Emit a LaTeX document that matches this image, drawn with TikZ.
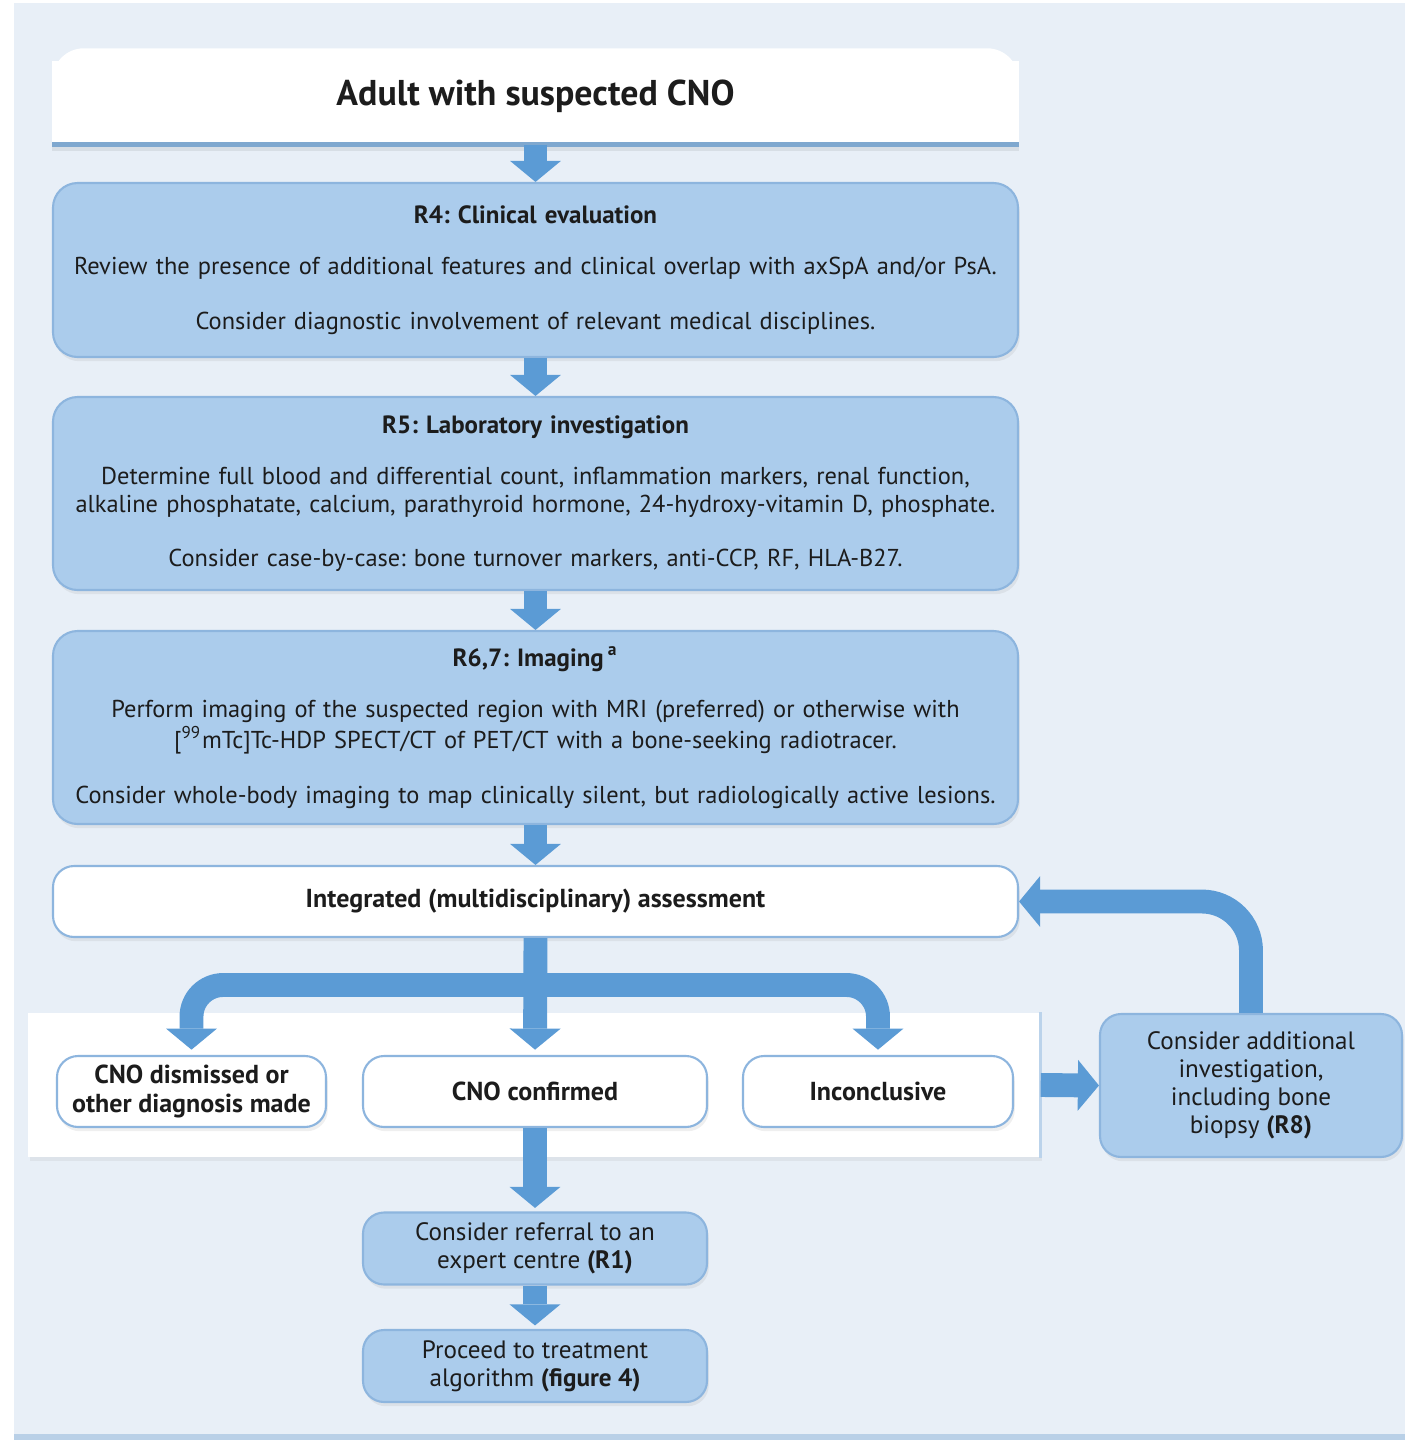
\documentclass[tikz,border=0pt]{standalone}
\usepackage{fontspec}
\setmainfont{PT Sans}
\usepackage{xcolor}
\usepackage{tikz}
\usetikzlibrary{arrows.meta,positioning,calc,shadows,backgrounds}

\definecolor{pagebg}{HTML}{E8EFF7}
\definecolor{pageline}{HTML}{B9D0E7}
\definecolor{boxblue}{HTML}{ABCCEC}
\definecolor{boxline}{HTML}{8DB5DE}
\definecolor{flowblue}{HTML}{5B9BD5}
\definecolor{titleline}{HTML}{7FA8CF}
\definecolor{inktext}{HTML}{1C1C1C}

\frenchspacing

\begin{document}
\begin{tikzpicture}[
    text=inktext,
    stepbox/.style={rectangle, rounded corners=7pt, draw=boxline, line width=0.6pt, fill=boxblue,
        minimum width=9.65cm, text width=9.4cm, align=center, inner sep=0pt,
        font=\fontsize{6.95}{8}\selectfont,
        drop shadow={opacity=0.12, shadow xshift=0.5pt, shadow yshift=-1.2pt}},
    whitebox/.style={rectangle, rounded corners=6pt, draw=boxline, line width=0.6pt, fill=white,
        minimum height=0.71cm, align=center, inner sep=0pt, font=\bfseries\fontsize{7.4}{8}\selectfont,
        drop shadow={opacity=0.12, shadow xshift=0.5pt, shadow yshift=-1.2pt}},
    smallbox/.style={rectangle, rounded corners=6pt, draw=boxline, line width=0.6pt, fill=boxblue,
        minimum width=3.44cm, minimum height=0.72cm, align=center, inner sep=0pt,
        font=\fontsize{7.15}{8}\selectfont,
        drop shadow={opacity=0.12, shadow xshift=0.5pt, shadow yshift=-1.2pt}},
    flow/.style={draw=flowblue, line width=6.8pt, -{Triangle[width=14.5pt, length=6pt, line width=0pt]}}
]

\useasboundingbox (0,0) rectangle (14.05,-14.40);

% title box, rounded on top only
\node[font=\bfseries\fontsize{10.2}{12}\selectfont, minimum width=9.65cm, minimum height=0.95cm] (title) at (5.355,-0.965) {Adult with suspected CNO};
\begin{scope}[on background layer]
% page background
\fill[pagebg] (0.14,-0.03) rectangle (14.05,-14.34);
\fill[pageline] (0.14,-14.34) rectangle (14.05,-14.40);
\fill[black, opacity=0.07] ([yshift=-1.8pt]title.south west) rectangle (title.south east);
\fill[white, rounded corners=9pt] (title.south west) rectangle (title.north east);
\fill[white] (title.south west) rectangle ([yshift=10pt]title.east);
\end{scope}
\draw[titleline, line width=1.4pt] (title.south west) -- (title.south east);

% recommendation steps
\node[stepbox, minimum height=1.74cm] (r4) at (5.355,-2.70) {%
{\bfseries\fontsize{7.1}{8}\selectfont R4: Clinical evaluation}\\[6.5pt]
Review the presence of additional features and clinical overlap with axSpA and/or PsA.\\[7.5pt]
Consider diagnostic involvement of relevant medical disciplines.};

\node[stepbox, minimum height=1.93cm] (r5) at (5.355,-4.935) {%
{\bfseries\fontsize{7.1}{8}\selectfont R5: Laboratory investigation}\\[6.5pt]
Determine full blood and differential count, inflammation markers, renal function,\\
alkaline phosphatate, calcium, parathyroid hormone, 24-hydroxy-vitamin D, phosphate.\\[7.5pt]
Consider case-by-case: bone turnover markers, anti-CCP, RF, HLA-B27.};

\node[stepbox, minimum height=1.93cm] (r6) at (5.355,-7.275) {%
{\bfseries\fontsize{7.1}{8}\selectfont R6,7: Imaging\,\textsuperscript{a}}\\[6.5pt]
Perform imaging of the suspected region with MRI (preferred) or otherwise with\\
{[}\textsuperscript{99}mTc]Tc-HDP SPECT/CT of PET/CT with a bone-seeking radiotracer.\\[7.5pt]
Consider whole-body imaging to map clinically silent, but radiologically active lesions.};

\node[whitebox, minimum width=9.65cm] (integ) at (5.355,-9.015) {Integrated (multidisciplinary) assessment};

% white panel with the three outcomes
\node[fill=white, minimum width=10.12cm, minimum height=1.44cm, inner sep=0pt,
      drop shadow={opacity=0.10, shadow xshift=0.6pt, shadow yshift=-1.2pt}] (panel) at (5.34,-10.85) {};
\draw[boxline!60, line width=1pt] (panel.north east) -- (panel.south east);

\node[whitebox, minimum width=2.69cm] (dism) at (1.915,-10.915) {CNO dismissed or\\other diagnosis made};
\node[whitebox, minimum width=3.44cm] (conf) at (5.35,-10.915) {CNO confirmed};
\node[whitebox, minimum width=2.70cm] (incon) at (8.78,-10.915) {Inconclusive};

\node[smallbox, minimum width=3.02cm, minimum height=1.43cm] (addl) at (12.51,-10.855) {Consider additional\\investigation,\\including bone\\biopsy \textbf{(R8)}};

\node[smallbox] (refer) at (5.35,-12.485) {Consider referral to an\\expert centre \textbf{(R1)}};
\node[smallbox] (proceed) at (5.35,-13.66) {Proceed to treatment\\algorithm \textbf{(figure 4)}};

% arrows
\draw[flow] (title) -- (r4);
\draw[flow] (r4) -- (r5);
\draw[flow] (r5) -- (r6);
\draw[flow] (r6) -- (integ);

\coordinate (split) at (5.355,-9.85);
\draw[flow, rounded corners=9pt, shorten >=1.5pt] (split) -| (dism.north);
\draw[flow, rounded corners=9pt, shorten >=1.5pt] (split) -| (incon.north);
\draw[flow, shorten >=1.5pt] (integ.south) -- (conf.north);

\draw[flow] (panel.east) -- (addl.west);
\draw[flow, rounded corners=14pt] (addl.north) |- (integ.east);

\draw[flow, shorten >=1pt] (conf.south) -- (refer.north);
\draw[flow, shorten >=1pt] (refer) -- (proceed);

\end{tikzpicture}
\end{document}
